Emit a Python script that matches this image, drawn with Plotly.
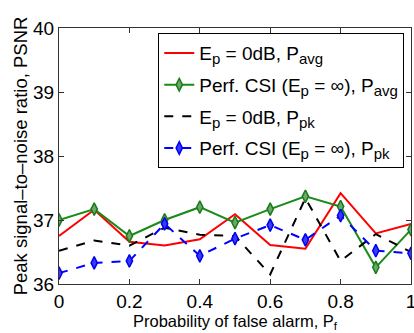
import plotly.graph_objects as go

pf = [0, 0.1, 0.2, 0.3, 0.4, 0.5, 0.6, 0.7, 0.8, 0.9, 1.0]
red_avg = [36.75, 37.16, 36.66, 36.60, 36.70, 37.09, 36.61, 36.55, 37.42, 36.79, 36.94]
green_avg = [37.00, 37.17, 36.75, 37.00, 37.20, 36.96, 37.17, 37.37, 37.21, 36.26, 36.85]
black_pk = [36.52, 36.68, 36.60, 36.88, 36.77, 36.75, 36.15, 37.34, 36.36, 36.78, 36.50]
blue_pk = [36.17, 36.33, 36.36, 36.94, 36.44, 36.71, 36.92, 36.69, 37.07, 36.52, 36.48]


def sub(t):
    return "<sub><span style='font-size:15px'>" + t + "</span></sub>"


names = [
    "E" + sub("p") + " = 0dB, P" + sub("avg"),
    "Perf. CSI (E" + sub("p") + " = ∞), P" + sub("avg"),
    "E" + sub("p") + " = 0dB, P" + sub("pk"),
    "Perf. CSI (E" + sub("p") + " = ∞), P" + sub("pk"),
]

font = "Liberation Sans, Arial, Helvetica, sans-serif"

fig = go.Figure()
fig.add_trace(go.Scatter(x=pf, y=red_avg, mode="lines", name=names[0], legendgroup="a",
                         line=dict(color="#ff0000", width=2)))
fig.add_trace(go.Scatter(x=pf, y=green_avg, mode="lines+markers", name=names[1], legendgroup="b",
                         line=dict(color="#1a8a1a", width=2),
                         marker=dict(symbol="diamond-tall", size=9, color="#6aa86a",
                                     line=dict(width=1.5, color="#1a7a1a"))))
fig.add_trace(go.Scatter(x=pf, y=black_pk, mode="lines", name=names[2], legendgroup="c",
                         line=dict(color="black", width=2, dash="dash")))
fig.add_trace(go.Scatter(x=pf, y=blue_pk, mode="lines+markers", name=names[3], legendgroup="d",
                         line=dict(color="#0000ff", width=2, dash="dash"),
                         marker=dict(symbol="diamond-tall", size=9, color="#3a3aff",
                                     line=dict(width=1.5, color="#0000ee"))))

axis_common = dict(showline=True, linecolor="#333333", linewidth=1, mirror="ticks",
                   ticks="inside", ticklen=5, tickcolor="#333333", showgrid=False,
                   zeroline=False, automargin=False, ticklabeloverflow="allow",
                   tickfont=dict(size=19, color="black", family=font))

fig.update_layout(
    width=414, height=333,
    margin=dict(l=59, r=3, t=28, b=49),
    paper_bgcolor="white", plot_bgcolor="white",
    font=dict(family=font, color="black"),
    xaxis=dict(range=[0, 1], tickvals=[0, 0.2, 0.4, 0.6, 0.8, 1],
               ticktext=["0", "0.2", "0.4", "0.6", "0.8", "1"],
               title=dict(text="Probability of false alarm, P<sub>f</sub>",
                          font=dict(size=16.5), standoff=0),
               **axis_common),
    yaxis=dict(range=[36, 40], tickvals=[36, 37, 38, 39, 40],
               title=dict(text="Peak signal–to–noise ratio, PSNR",
                          font=dict(size=18.5), standoff=0),
               **axis_common),
    legend=dict(x=0.282, y=0.98, xanchor="left", yanchor="top",
                bgcolor="white", bordercolor="black", borderwidth=1,
                font=dict(size=19, color="black"), tracegroupgap=4,
                itemwidth=30),
    showlegend=True,
)

fig.write_html("out.html", config={"displayModeBar": False},
               post_script="document.body.style.margin='0';")
